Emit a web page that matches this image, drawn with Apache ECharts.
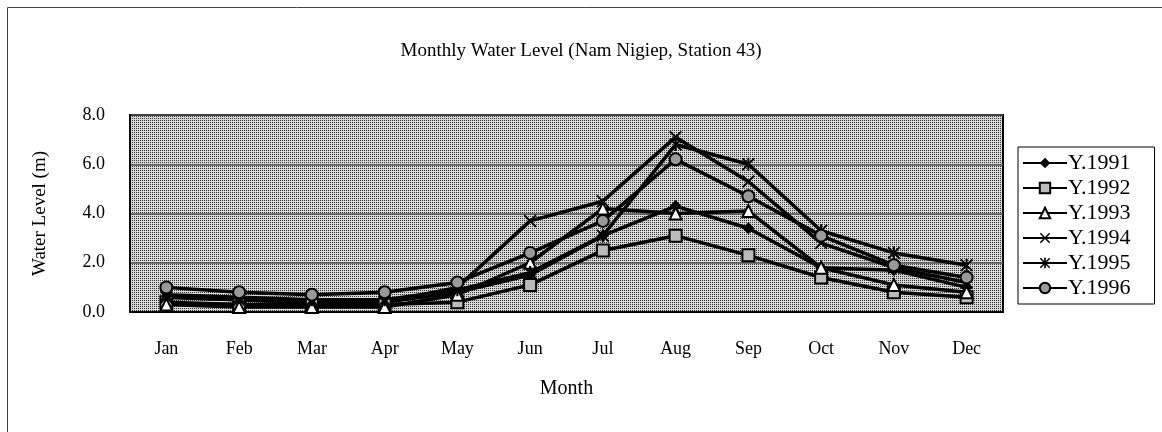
<!DOCTYPE html>
<html>
<head>
<meta charset="utf-8">
<script src="https://cdn.jsdelivr.net/npm/echarts@6/dist/echarts.min.js"></script>
<style>
  html, body { margin: 0; padding: 0; background: #fff; }
  #chart { width: 1162px; height: 432px; }
</style>
</head>
<body>
<div id="chart"></div>
<script>
// data
const months = ['Jan', 'Feb', 'Mar', 'Apr', 'May', 'Jun', 'Jul', 'Aug', 'Sep', 'Oct', 'Nov', 'Dec']
const y1991 = [0.6, 0.5, 0.4, 0.4, 0.8, 1.5, 3.1, 4.3, 3.4, 1.8, 1.7, 1.0]
const y1992 = [0.4, 0.3, 0.3, 0.3, 0.4, 1.1, 2.5, 3.1, 2.3, 1.4, 0.8, 0.6]
const y1993 = [0.3, 0.2, 0.2, 0.2, 0.7, 2.0, 4.2, 4.0, 4.1, 1.8, 1.1, 0.8]
const y1994 = [0.6, 0.5, 0.4, 0.4, 1.0, 3.7, 4.5, 7.1, 5.3, 2.8, 1.8, 1.2]
const y1995 = [0.7, 0.6, 0.5, 0.5, 0.9, 1.6, 3.1, 6.8, 6.0, 3.3, 2.4, 1.9]
const y1996 = [1.0, 0.8, 0.7, 0.8, 1.2, 2.4, 3.7, 6.2, 4.7, 3.1, 1.9, 1.4]
const yTicks = [0, 2, 4, 6, 8]

const font = 'Liberation Serif'

// dotted grey fill like the old spreadsheet plot area
function dotPattern(dark, light) {
  const c = document.createElement('canvas')
  c.width = 4
  c.height = 4
  const ctx = c.getContext('2d')
  ctx.fillStyle = light
  ctx.fillRect(0, 0, 4, 4)
  ctx.fillStyle = dark
  ctx.fillRect(0, 0, 1, 1)
  ctx.fillRect(2, 2, 1, 1)
  ctx.fillRect(2, 0, 1, 1)
  ctx.fillRect(0, 2, 1, 1)
  return { image: c, repeat: 'repeat' }
}

const xSym = 'path://M1,0L5,4L9,0L10,1L6,5L10,9L9,10L5,6L1,10L0,9L4,5L0,1Z'
const starSym = 'path://M1,0L5,4L9,0L10,1L6,5L10,9L9,10L5,6L1,10L0,9L4,5L0,1ZM4.2,0L5.8,0L5.8,10L4.2,10Z'

function mkSeries(name, data, symbol, size, fill) {
  return {
    name: name,
    type: 'line',
    data: data,
    symbol: symbol,
    symbolSize: size,
    showAllSymbol: true,
    lineStyle: { color: '#000', width: 3.5 },
    itemStyle: { color: fill, borderColor: '#000', borderWidth: fill === '#000' ? 0 : 2 },
    emphasis: { disabled: true }
  }
}

const chart = echarts.init(document.getElementById('chart'))
const option = {
  backgroundColor: '#fff',
  animation: false,
  title: {
    text: 'Monthly Water Level (Nam Nigiep, Station 43)',
    left: 'center',
    top: 37,
    textStyle: { fontFamily: font, fontSize: 19, fontWeight: 'normal', color: '#000' }
  },
  legend: {
    orient: 'vertical',
    left: 1018,
    top: 147,
    itemWidth: 44,
    itemHeight: 13,
    itemGap: 3,
    padding: [5, 24, 5, 4],
    borderColor: '#000',
    borderWidth: 1,
    backgroundColor: '#fff',
    textStyle: { fontFamily: font, fontSize: 22, color: '#000', padding: [0, 0, 0, -4] },
    data: ['Y.1991', 'Y.1992', 'Y.1993', 'Y.1994', 'Y.1995', 'Y.1996']
  },
  grid: {
    left: 130,
    right: 159,
    top: 115,
    bottom: 120,
    show: true,
    backgroundColor: dotPattern('#333', '#d8d8d8'),
    borderColor: '#000',
    borderWidth: 2
  },
  xAxis: {
    type: 'category',
    data: months,
    boundaryGap: true,
    name: 'Month',
    nameLocation: 'middle',
    nameGap: 67,
    nameTextStyle: { fontFamily: font, fontSize: 20, color: '#000' },
    axisLine: { lineStyle: { color: '#000', width: 2 } },
    axisTick: { inside: true, length: 5, lineStyle: { color: '#000' } },
    axisLabel: { fontFamily: font, fontSize: 18, color: '#000', margin: 28 }
  },
  yAxis: {
    type: 'value',
    min: yTicks[0],
    max: yTicks[yTicks.length - 1],
    interval: 2,
    name: 'Water Level (m)',
    nameLocation: 'middle',
    nameGap: 80,
    nameRotate: 90,
    nameTextStyle: { fontFamily: font, fontSize: 19, color: '#000' },
    axisLine: { show: true, lineStyle: { color: '#000', width: 2 } },
    axisTick: { show: false },
    axisLabel: {
      fontFamily: font, fontSize: 18, color: '#000', margin: 25,
      formatter: function (v) { return v.toFixed(1) }
    },
    splitLine: { show: true, lineStyle: { color: '#555', width: 1.5 } }
  },
  graphic: [{
    type: 'rect',
    shape: { x: 7.5, y: 7.5, width: 1200, height: 500 },
    style: { fill: 'none', stroke: '#444', lineWidth: 1 },
    silent: true
  }],
  series: [
    mkSeries('Y.1991', y1991, 'diamond', 12, '#000'),
    mkSeries('Y.1992', y1992, 'rect', 12, '#bbb'),
    mkSeries('Y.1993', y1993, 'triangle', 12, '#fff'),
    mkSeries('Y.1994', y1994, xSym, 13, '#000'),
    mkSeries('Y.1995', y1995, starSym, 13, '#000'),
    mkSeries('Y.1996', y1996, 'circle', 12, '#999')
  ]
}
chart.setOption(option)
</script>
</body>
</html>
